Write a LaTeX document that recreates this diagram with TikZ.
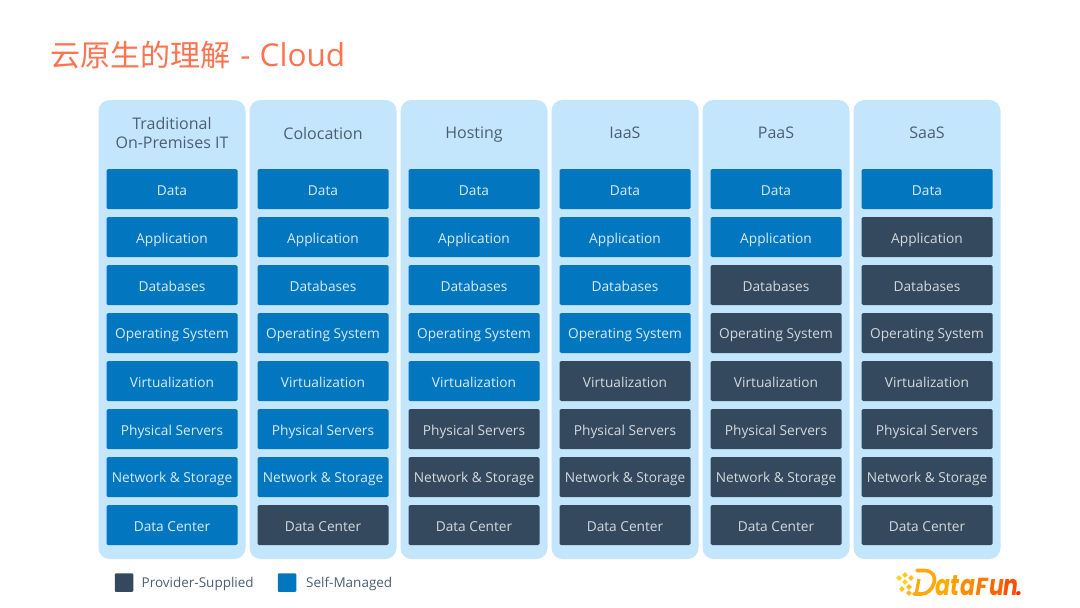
\documentclass[tikz,border=0pt]{standalone}
\usepackage{fontspec}
\setmainfont{Open Sans}
\newfontfamily\cjkfont{Noto Sans CJK SC}
\newfontfamily\logofont{Poppins}
\newcommand{\tall}[1]{\scalebox{1}[1.3]{#1}}
\definecolor{pagetitle}{HTML}{FF7350}
\definecolor{colbg}{HTML}{C4E6FD}
\definecolor{selfblue}{HTML}{0277BF}
\definecolor{provdark}{HTML}{34495E}
\definecolor{headtext}{HTML}{4C5F72}
\definecolor{selftext}{HTML}{D6EBF8}
\definecolor{provtext}{HTML}{D3D8DD}
\definecolor{logoamber}{HTML}{FFA90A}
\tikzset{
  x=1pt,y=-1pt,
  column/.style={fill=colbg,rounded corners=11pt,draw=none},
  layerbox/.style={minimum width=131pt,minimum height=40pt,inner sep=0pt,rounded corners=1.5pt,
    font=\fontsize{13.7}{13.7}\selectfont,anchor=center,text depth=2pt},
  selfbox/.style={layerbox,fill=selfblue,text=selftext},
  provbox/.style={layerbox,fill=provdark,text=provtext},
  headlabel/.style={text=headtext,font=\fontsize{16}{19}\selectfont,align=center,anchor=center},
  legendswatch/.style={minimum size=18.5pt,inner sep=0pt,rounded corners=1pt},
  legendlabel/.style={text=headtext,font=\fontsize{13.5}{13.5}\selectfont,anchor=base west,inner sep=0pt},
  logoletter/.style={font=\logofont\bfseries\itshape\fontsize{22}{22}\selectfont,inner sep=0pt,anchor=base west},
  logodot/.style={minimum size=4pt,inner sep=0pt,rotate=45}
}
\begin{document}
\begin{tikzpicture}
\useasboundingbox (0,0) rectangle (1080,608);
\fill[white] (0,0) rectangle (1080,608);

\node[text=pagetitle,anchor=west,inner sep=0pt,font=\fontsize{31.5}{31.5}\selectfont] (title) at (50,55)
  {{\cjkfont\fontsize{30}{30}\selectfont 云原生的理解}\hspace{2pt} - \hspace{1pt}Cloud};

% Service models: each column lists how many of its lower layers the provider supplies
\foreach \col/\cx/\hy/\head/\nprov in {
  a/172/132.5/{Traditional\\On-Premises IT}/0,
  b/323/135/{Colocation}/1,
  c/474/135/{Hosting}/3,
  d/625/135/{IaaS}/4,
  e/776/135/{PaaS}/6,
  f/927/135/{SaaS}/7}{
  \fill[column] (\cx-73.5,100) rectangle (\cx+73.5,559);
  \node[headlabel] (head-\col) at (\cx,\hy) {\vphantom{Tg}\head};
  \foreach \row/\yy/\th/\lab in {
    1/189/14/Data,
    2/237/14/Application,
    3/285/14/Databases,
    4/333/12/Operating System,
    5/381/14/Virtualization,
    6/429/14/Physical Servers,
    7/477/12/Network \& Storage,
    8/525/14/Data Center}{
    \pgfmathtruncatemacro{\isprov}{\row>8-\nprov ? 1 : 0}
    \ifnum\isprov=1
      \node[provbox,text height=\th pt] (\col-\row) at (\cx,\yy) {\lab};
    \else
      \node[selfbox,text height=\th pt] (\col-\row) at (\cx,\yy) {\lab};
    \fi
  }
}

% Legend
\node[legendswatch,fill=provdark] (keyprov) at (124,582.5) {};
\node[legendlabel] (keyprovlabel) at (141.5,587) {Provider-Supplied};
\node[legendswatch,fill=selfblue] (keyself) at (287,582.5) {};
\node[legendlabel] (keyselflabel) at (306,587) {Self-Managed};

% Logo mark
\foreach \n/\px/\py/\cc in {
  p1/899/578/FFD21E, p2/905/575/FFC81E, p3/905/582/FFD21E, p4/911/578/FFC01E,
  p5/902/589/FFC81E, p6/909/587/FFB81E, p7/909/593/FFB81E}{
  \definecolor{dotcol}{HTML}{\cc}
  \node[logodot,fill=dotcol] (\n) at (\px,\py) {};
}
\draw[line width=3.6pt,color=logoamber,line cap=round]
  (917,570.5) -- (924,570.5) .. controls (933,570.5) and (936,577) .. (934,583)
  .. controls (932,590) and (927,594) .. (921,594) -- (914,594);
\draw[line width=3.2pt,color=logoamber] (919,579) -- (916.5,592);

\node[logoletter] (l1) at (935,595.5) {\color[HTML]{FFAC00}\tall{a}};
\node[logoletter] (l2) at (950,595.5) {\color[HTML]{FF9E00}\tall{t}};
\node[logoletter] (l3) at (960,595.5) {\color[HTML]{FF8C00}\tall{a}};
\node[logoletter] (l4) at (975.5,595.5) {\color[HTML]{FF7A00}\scalebox{1}[1.12]{F}};
\node[logoletter] (l5) at (989,595.5) {\color[HTML]{FF6400}\tall{u}};
\node[logoletter] (l6) at (1003,595.5) {\color[HTML]{FF4F00}\tall{n}};
\node[logoletter] (l7) at (1016,595.5) {\color[HTML]{FF2A00}.};
\end{tikzpicture}
\end{document}
